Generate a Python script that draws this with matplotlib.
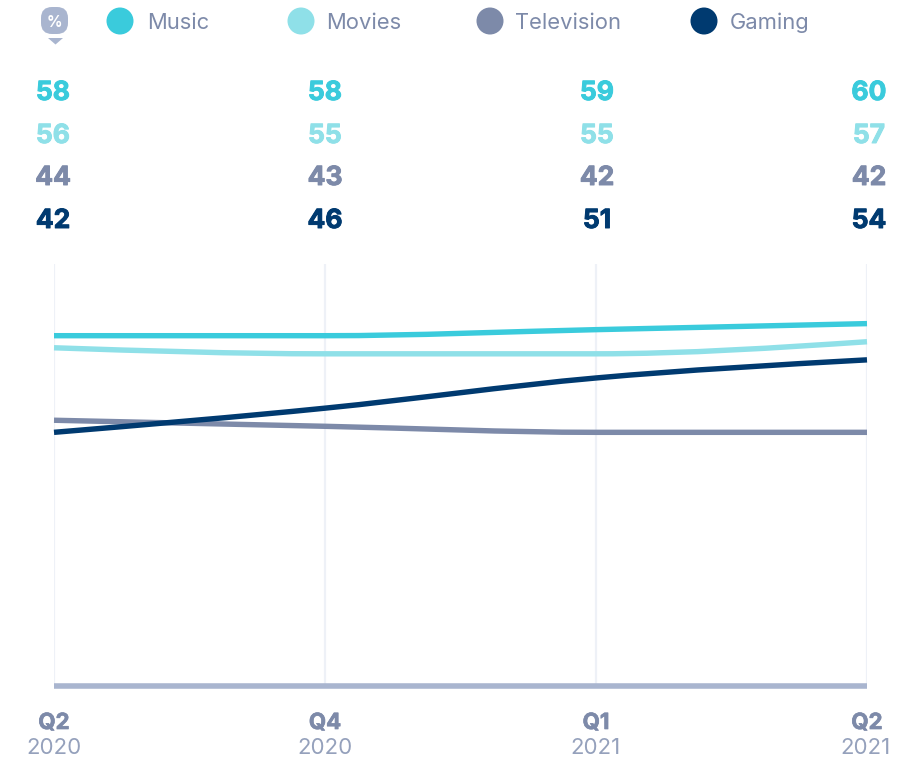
import matplotlib.pyplot as plt
import matplotlib.patheffects as pe
import numpy as np
from matplotlib.patches import Circle, FancyBboxPatch, PathPatch, Polygon
from matplotlib.path import Path

W, H = 924, 758

QUARTERS = ["Q2", "Q4", "Q1", "Q2"]
YEARS = ["2020", "2020", "2021", "2021"]
NAMES = ["Music", "Movies", "Television", "Gaming"]
MUSIC = [58, 58, 59, 60]
MOVIES = [56, 55, 55, 57]
TELEVISION = [44, 43, 42, 42]
GAMING = [42, 46, 51, 54]
SERIES = [MUSIC, MOVIES, TELEVISION, GAMING]
COLORS = ["#3ACBDC", "#8FE0E8", "#7D8AA9", "#003A70"]

BADGE = "#A9B5CF"
TICK_BOLD = "#7D8AA9"
TICK_LIGHT = "#95A1BC"
GRID = "#EEF1F7"

plt.rcParams["font.family"] = ["Inter", "DejaVu Sans"]


def monotone_path(xs, ys):
    # same idea as d3 curveMonotoneX, one bezier per segment
    xs, ys = np.asarray(xs, float), np.asarray(ys, float)
    h = np.diff(xs)
    s = np.diff(ys) / h
    t = np.zeros(len(xs))
    for i in range(1, len(xs) - 1):
        if s[i - 1] * s[i] > 0:
            p = (s[i - 1] * h[i] + s[i] * h[i - 1]) / (h[i - 1] + h[i])
            t[i] = (np.sign(s[i - 1]) + np.sign(s[i])) * min(abs(s[i - 1]), abs(s[i]), 0.5 * abs(p))
    t[0] = (3 * s[0] - t[1]) / 2
    t[-1] = (3 * s[-1] - t[-2]) / 2
    verts = [(xs[0], ys[0])]
    codes = [Path.MOVETO]
    for i in range(len(xs) - 1):
        d = h[i] / 3
        verts += [(xs[i] + d, ys[i] + d * t[i]), (xs[i + 1] - d, ys[i + 1] - d * t[i + 1]), (xs[i + 1], ys[i + 1])]
        codes += [Path.CURVE4] * 3
    return Path(verts, codes)


def heavy(color, width=0.7):
    # Inter only comes up to bold here, thicken it a little
    return [pe.withStroke(linewidth=width, foreground=color)]


fig = plt.figure(figsize=(W / 100, H / 100), dpi=100)

# overlay in pixel coordinates for the header and labels
top = fig.add_axes([0, 0, 1, 1])
top.set_xlim(0, W)
top.set_ylim(H, 0)
top.axis("off")

ax = fig.add_axes([54 / W, 1 - 686 / H, (867 - 54) / W, (686 - 264) / H])
ax.set_xlim(0, 3)
ax.set_ylim(0, 69.87)
ax.patch.set_alpha(0)
for side in ax.spines:
    ax.spines[side].set_visible(False)
ax.set_yticks([])
ax.set_xticks(range(4))
ax.tick_params(length=0, labelbottom=False)
ax.grid(axis="x", color=GRID, linewidth=1.6)
ax.set_axisbelow(True)
ax.axhline(0, color=BADGE, linewidth=4, clip_on=False, solid_capstyle="butt")

x = np.arange(4)
for values, color in zip(SERIES, COLORS):
    ax.add_patch(PathPatch(monotone_path(x, values), fill=False, edgecolor=color,
                           linewidth=3.9, capstyle="butt", clip_on=False))

# value table above the plot
row_y = [90, 133, 175, 218]
col_x = [53, 325, 597, 869]
for values, color, y in zip(SERIES, COLORS, row_y):
    for v, cx in zip(values, col_x):
        top.text(cx, y, str(v), color=color, fontsize=19, fontweight="bold", ha="center",
                 va="center_baseline", path_effects=heavy(color))

# legend
dot_x = [120, 301, 490, 704]
label_x = [147, 326, 515, 730]
for name, color, dx, lx in zip(NAMES, COLORS, dot_x, label_x):
    top.add_patch(Circle((dx, 21), 13.5, color=color, linewidth=0))
    top.text(lx, 21, name, color=TICK_BOLD, fontsize=15.8, ha="left", va="center_baseline")

# % badge
top.add_patch(FancyBboxPatch((47, 13), 15, 15, boxstyle="round,pad=6,rounding_size=11",
                             facecolor=BADGE, edgecolor="none"))
top.add_patch(Polygon([(48, 38), (63, 38), (55.5, 44.5)], facecolor=BADGE, edgecolor="none"))
top.text(54.5, 21, "%", color="white", fontsize=11, fontweight="bold", ha="center", va="center_baseline")

# x labels
for q, yr, cx in zip(QUARTERS, YEARS, [54, 325, 596, 867]):
    top.text(cx, 721, q, color=TICK_BOLD, fontsize=16, fontweight="bold", ha="center",
             va="center_baseline", path_effects=heavy(TICK_BOLD, 0.5))
    top.text(cx if cx < 800 else 865, 746, yr, color=TICK_LIGHT, fontsize=16, ha="center", va="center_baseline")

fig.savefig("out.png", dpi=100)
